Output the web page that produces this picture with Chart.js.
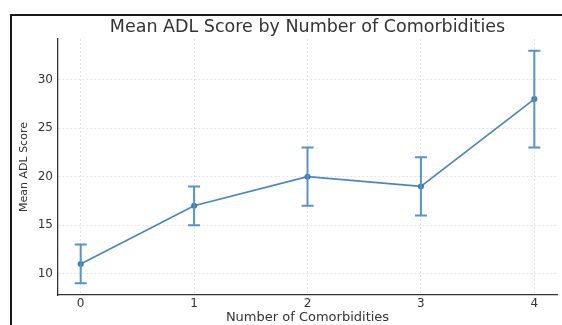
<!DOCTYPE html>
<html>
<head>
<meta charset="utf-8">
<script src="https://cdn.jsdelivr.net/npm/chart.js@4/dist/chart.umd.min.js"></script>
<style>
  html, body { margin: 0; padding: 0; background: #fff; }
  #wrap { position: relative; width: 562px; height: 325px; overflow: hidden; }
  #frame { position: absolute; left: 10px; top: 14px; width: 700px; height: 500px;
           border-top: 2px solid #1a1a1a; border-left: 2px solid #1a1a1a; }
  canvas { position: absolute; left: 0; top: 0; }
</style>
</head>
<body>
<div id="wrap">
  <div id="frame"></div>
  <canvas id="chart" width="562" height="325"></canvas>
</div>
<script>
// Number of comorbidities and the mean ADL score for each group
const comorbidities = [0, 1, 2, 3, 4];
const meanADL = [11, 17, 20, 19, 28];
const errADL = [2, 2, 3, 3, 5];
const xTicks = [0, 1, 2, 3, 4];
const yTicks = [10, 15, 20, 25, 30];

const lineColor = '#4a87bd';
const barColor = '#5893c6';
const FONT = 'DejaVu Sans';

// vertical error bars with caps, drawn through the chart's own scales
const errorBars = {
  id: 'errorBars',
  afterDatasetsDraw(chart) {
    const { ctx, scales: { x, y } } = chart;
    ctx.save();
    ctx.strokeStyle = barColor;
    ctx.lineWidth = 2;
    const cap = 6;
    comorbidities.forEach((c, i) => {
      const px = x.getPixelForValue(c);
      const top = y.getPixelForValue(meanADL[i] + errADL[i]);
      const bot = y.getPixelForValue(meanADL[i] - errADL[i]);
      ctx.beginPath();
      ctx.moveTo(px, top); ctx.lineTo(px, bot);
      ctx.moveTo(px - cap, top); ctx.lineTo(px + cap, top);
      ctx.moveTo(px - cap, bot); ctx.lineTo(px + cap, bot);
      ctx.stroke();
    });
    ctx.restore();
  }
};

new Chart(document.getElementById('chart'), {
  type: 'line',
  data: {
    datasets: [{
      data: comorbidities.map((c, i) => ({ x: c, y: meanADL[i] })),
      borderColor: lineColor,
      backgroundColor: '#3d77ad',
      borderWidth: 1.7,
      pointRadius: 3,
      pointBorderWidth: 0,
      tension: 0
    }]
  },
  options: {
    responsive: false,
    animation: false,
    layout: { padding: { left: 0, right: 5, top: 0, bottom: 0 } },
    plugins: {
      legend: { display: false },
      tooltip: { enabled: false },
      title: {
        display: true,
        text: 'Mean ADL Score by Number of Comorbidities',
        fullSize: false,
        color: '#333',
        font: { family: FONT, size: 17.5, weight: 'normal' },
        padding: { top: 17, bottom: 1 }
      }
    },
    scales: {
      x: {
        type: 'linear',
        min: -0.2,
        max: 4.2,
        afterBuildTicks: s => { s.ticks = xTicks.map(v => ({ value: v })); },
        afterFit: s => { s.height = 30; },
        ticks: { color: '#333', font: { family: FONT, size: 12 }, padding: 2 },
        grid: { color: '#dcdcdc', drawTicks: false, lineWidth: 0.8 },
        border: { color: '#333', width: 1.3, dash: [2, 2] },
        title: {
          display: true,
          text: 'Number of Comorbidities',
          color: '#333',
          font: { family: FONT, size: 13 },
          padding: { top: 0, bottom: 0 }
        }
      },
      y: {
        min: 7.8,
        max: 34.2,
        afterBuildTicks: s => { s.ticks = yTicks.map(v => ({ value: v })); },
        afterFit: s => { s.width = 58; },
        ticks: { color: '#333', font: { family: FONT, size: 12 }, padding: 5 },
        grid: { color: '#dcdcdc', drawTicks: false, lineWidth: 0.8 },
        border: { color: '#333', width: 1.3, dash: [2, 2] },
        title: {
          display: true,
          text: 'Mean ADL Score',
          color: '#333',
          font: { family: FONT, size: 11 },
          padding: { top: 18, bottom: 18 }
        }
      }
    }
  },
  plugins: [errorBars]
});
</script>
</body>
</html>
